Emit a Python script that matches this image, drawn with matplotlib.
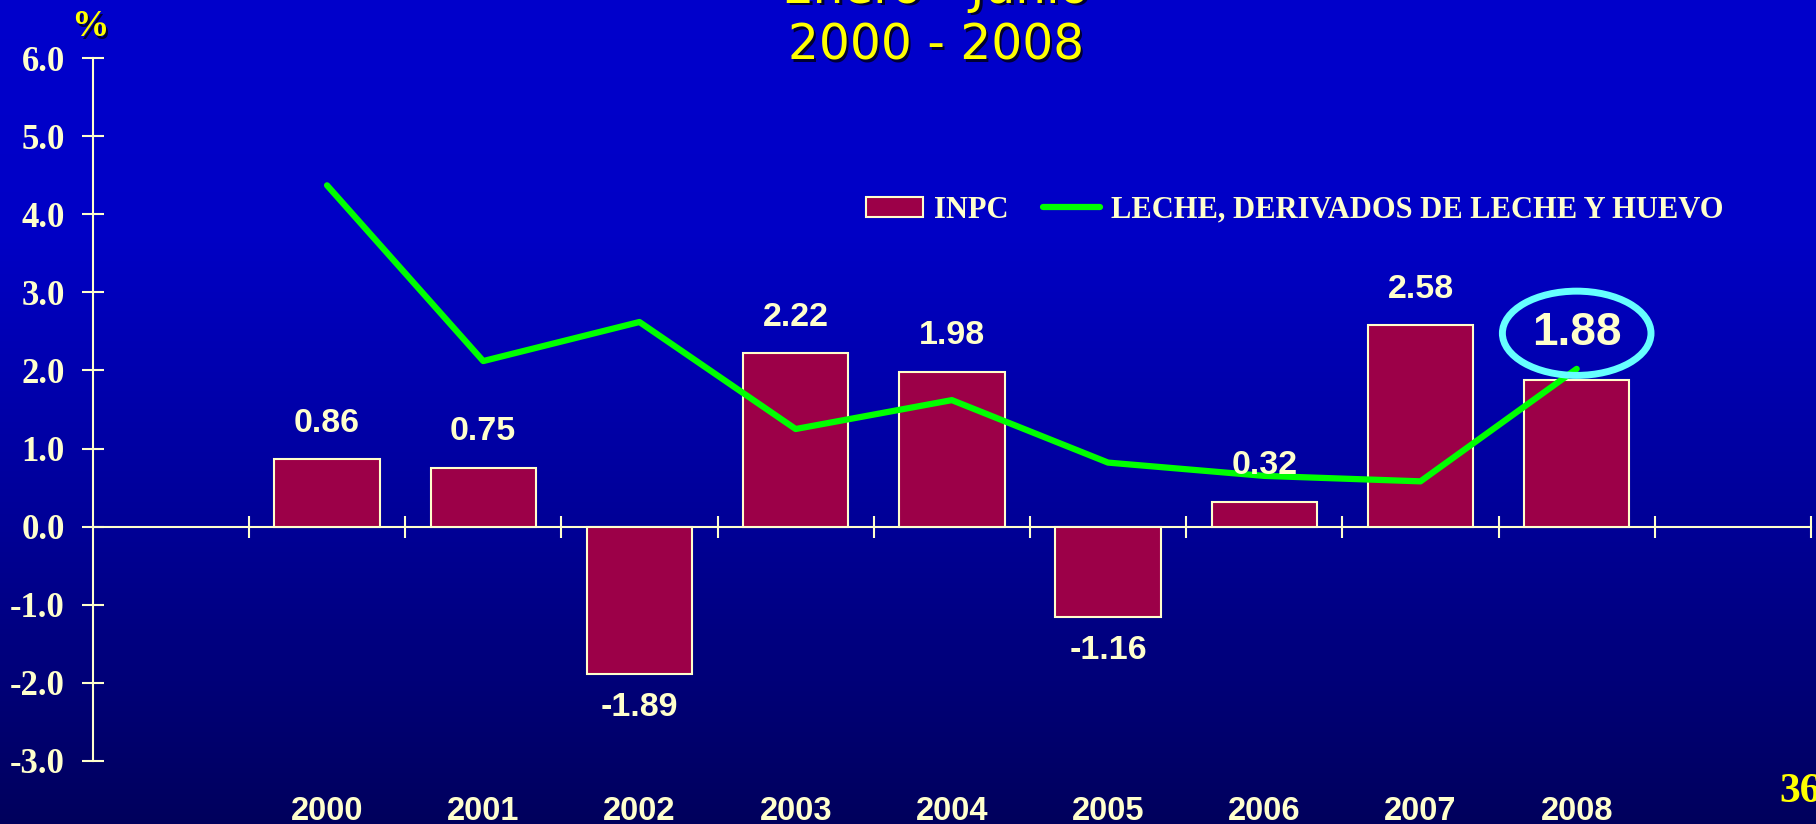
import numpy as np
import matplotlib.pyplot as plt
from matplotlib.lines import Line2D
from matplotlib.patches import Patch

# data
years = ['2000', '2001', '2002', '2003', '2004', '2005', '2006', '2007', '2008']
inpc = [0.86, 0.75, -1.89, 2.22, 1.98, -1.16, 0.32, 2.58, 1.88]
leche = [4.37, 2.12, 2.62, 1.25, 1.62, 0.82, 0.65, 0.58, 2.02]
yticks = [-3, -2, -1, 0, 1, 2, 3, 4, 5, 6]

CREAM = '#FFFFCC'
YELLOW = '#FFFF00'
BAR = '#9C0048'
GREEN = '#00FF00'

fig = plt.figure(figsize=(18.16, 8.24), dpi=100)

# background gradient, bright blue on top to navy at the bottom
rows = np.arange(824)
blue = np.interp(rows, [0, 230, 526, 824], [204, 198, 150, 92]) / 255.0
grad = np.zeros((824, 1, 3))
grad[:, 0, 2] = blue
bg = fig.add_axes([0, 0, 1, 1], zorder=-1)
bg.imshow(grad, aspect='auto', extent=[0, 1, 0, 1])
bg.axis('off')

ax = fig.add_axes([0.05105, 0.0765, 0.9462, 0.8531])
ax.set_facecolor('none')
x = np.arange(len(years))

bars = ax.bar(x, inpc, width=0.675, color=BAR, edgecolor=CREAM, linewidth=1.5, zorder=2)
ax.plot(x, leche, color=GREEN, lw=4.5, solid_joinstyle='round', solid_capstyle='round', zorder=3)

ax.set_xlim(-1.5, 9.5)
ax.set_ylim(-3, 6)

for s in ['top', 'right', 'bottom']:
    ax.spines[s].set_visible(False)
ax.spines['left'].set_color(CREAM)
ax.spines['left'].set_linewidth(1.5)

ax.set_yticks(yticks)
ax.set_yticklabels(['%.1f' % v for v in yticks])
ax.tick_params(axis='y', direction='inout', length=16, width=1.5, color=CREAM,
               labelcolor=CREAM, pad=12)
for t in ax.get_yticklabels():
    t.set_fontfamily('Liberation Serif')
    t.set_fontweight('bold')
    t.set_fontsize(25)

ax.set_xticks(x)
ax.set_xticklabels(years)
ax.tick_params(axis='x', length=0, labelcolor=CREAM, pad=25)
for t in ax.get_xticklabels():
    t.set_fontfamily('Liberation Sans')
    t.set_fontweight('bold')
    t.set_fontsize(23.5)

# zero line with category boundary ticks
zero = ax.secondary_xaxis((0 - (-3)) / 9.0)
zero.spines['bottom'].set_color(CREAM)
zero.spines['bottom'].set_linewidth(1.5)
zero.set_xticks(np.arange(-0.5, 10, 1.0))
zero.tick_params(direction='inout', length=16, width=1.5, color=CREAM, labelbottom=False)

# value labels
for i, v in enumerate(inpc[:-1]):
    off = 26 if v > 0 else -24
    ax.annotate('%.2f' % v, (x[i], v), xytext=(0, off), textcoords='offset points',
                ha='center', va='center', color=CREAM, fontsize=24.5,
                fontweight='bold', family='Liberation Sans')
ax.annotate('%.2f' % inpc[-1], (x[-1], inpc[-1]), xytext=(0, 33.5), textcoords='offset points',
            ha='center', va='center', color=CREAM, fontsize=33, fontweight='bold',
            family='Liberation Sans', zorder=5,
            bbox=dict(boxstyle='ellipse,pad=0.17', fc='none', ec='#66FFFF', lw=5))

# legend
handles = [Patch(facecolor=BAR, edgecolor=CREAM, linewidth=1.5),
           Line2D([], [], color=GREEN, lw=4.5, solid_capstyle='round')]
leg = fig.legend(handles, ['INPC', 'LECHE, DERIVADOS DE LECHE Y HUEVO'],
                 loc='center left', bbox_to_anchor=(0.4769, 0.745), ncol=2,
                 frameon=False, borderpad=0, borderaxespad=0,
                 handlelength=1.86, handleheight=0.6, handletextpad=0.35, columnspacing=1.15,
                 prop={'family': 'Liberation Serif', 'weight': 'bold', 'size': 22})
for t in leg.get_texts():
    t.set_color(CREAM)

# titles and extra text with a dark shadow
def shadow_text(xp, yp, s, **kw):
    fig.text(xp + 0.0012, yp - 0.0026, s, color='#000033', **kw)
    fig.text(xp, yp, s, color=YELLOW, **kw)

shadow_text(0.5154, 1 - 3 / 824, 'Enero - Junio', ha='center', va='baseline',
            fontsize=35, family='DejaVu Sans')
shadow_text(0.5154, 1 - 46 / 824, '2000 - 2008', ha='center', va='center',
            fontsize=35, family='DejaVu Sans')
shadow_text(0.0496, 1 - 27 / 824, '%', ha='center', va='center',
            fontsize=27, fontweight='bold', family='Liberation Serif')
fig.text(0.980, 1 - 792 / 824, '36', ha='left', va='center', color=YELLOW,
         fontsize=30, fontweight='bold', family='Liberation Serif')

fig.savefig('out.png', dpi=100)
